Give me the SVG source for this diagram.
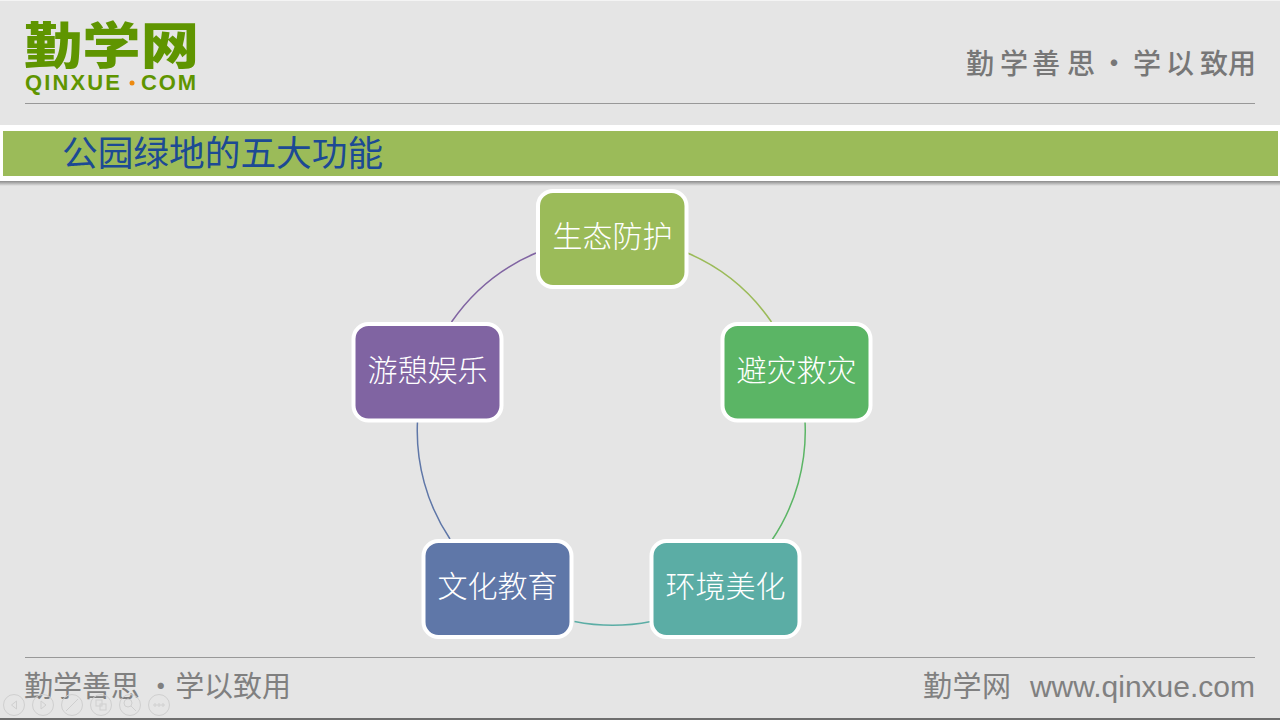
<svg xmlns="http://www.w3.org/2000/svg" width="1280" height="720" viewBox="0 0 1280 720">
<style>
text{font-family:"Noto Sans CJK SC","Liberation Sans",sans-serif}
.box{stroke:#fff;stroke-width:4}
.lbl{font-size:30px;font-weight:300;fill:#fff;text-anchor:middle}
.arc{fill:none;stroke-width:1.5}
.rule{stroke:#989898;stroke-width:1}
.foot{font-size:29px;fill:#808080;font-weight:400}
.tb{fill:none;stroke:#cfcfcf;stroke-width:1}
</style>
<defs>
<linearGradient id="sh" x1="0" y1="0" x2="0" y2="1"><stop offset="0" stop-color="#8a8a8a"/><stop offset="1" stop-color="#e5e5e5"/></linearGradient>
</defs>
<rect width="1280" height="720" fill="#e5e5e5"/>
<rect width="1280" height="1" fill="#f4f4f4"/>
<rect y="718" width="1280" height="2" fill="#6e6e6e"/>
<g id="header">
<text x="24" y="64" font-size="50" font-weight="900" fill="#5f9500" textLength="175" lengthAdjust="spacingAndGlyphs">勤学网</text>
<text x="25" y="90" style="font-family:'Liberation Sans',sans-serif" font-size="22" font-weight="700" fill="#5f9500" textLength="95" lengthAdjust="spacing">QINXUE</text>
<circle cx="132" cy="83" r="2.500" fill="#ed8a10"/>
<text x="141" y="90" style="font-family:'Liberation Sans',sans-serif" font-size="22" font-weight="700" fill="#5f9500" textLength="55" lengthAdjust="spacing">COM</text>
<text y="74" font-size="28" font-weight="500" fill="#777" x="966 1000 1032 1067 1100 1133 1166 1200 1228">勤学善思·学以致用</text>
<line class="rule" x1="25" y1="103.500" x2="1255" y2="103.500"/>
</g>
<g id="title">
<rect y="181" width="1280" height="5" fill="url(#sh)"/>
<rect y="125" width="1280" height="56" fill="#fff"/>
<rect x="3" y="131" width="1275" height="45" fill="#9bbb59"/>
<text x="62" y="166" font-size="35.700" font-weight="400" fill="#1c4a94">公园绿地的五大功能</text>
</g>
<g id="connectors">
<path class="arc" stroke="#9bbb59" d="M687.500 253A194.500 194.500 0 0 1 771.500 322"/>
<path class="arc" stroke="#5bb565" d="M805 421A194.500 194.500 0 0 1 772 540"/>
<path class="arc" stroke="#5bada5" d="M651 621.500A194.500 194.500 0 0 1 574.500 621.500"/>
<path class="arc" stroke="#5f77a8" d="M450 539A194.500 194.500 0 0 1 417.500 421"/>
<path class="arc" stroke="#8064a2" d="M451.500 322A194.500 194.500 0 0 1 536 253"/>
</g>
<g id="node-1"><rect class="box" x="538" y="191" width="148.500" height="96" rx="15" fill="#9bbb59"/><text class="lbl" x="612.500" y="247">生态防护</text></g>
<g id="node-2"><rect class="box" x="722.500" y="324" width="148" height="96.500" rx="15" fill="#5bb565"/><text class="lbl" x="796.500" y="381">避灾救灾</text></g>
<g id="node-3"><rect class="box" x="651.500" y="541" width="148" height="96" rx="15" fill="#5bada5"/><text class="lbl" x="725.500" y="597">环境美化</text></g>
<g id="node-4"><rect class="box" x="423.500" y="541" width="148" height="96" rx="15" fill="#5f77a8"/><text class="lbl" x="497.500" y="597">文化教育</text></g>
<g id="node-5"><rect class="box" x="353.500" y="324" width="148" height="96.500" rx="15" fill="#8064a2"/><text class="lbl" x="427.500" y="381">游憩娱乐</text></g>
<g id="footer">
<line class="rule" x1="25" y1="657.500" x2="1255" y2="657.500"/>
<text class="foot" x="24" y="696.500" textLength="267" lengthAdjust="spacing">勤学善思 ・学以致用</text>
<text class="foot" x="923" y="696.500" textLength="88" lengthAdjust="spacing">勤学网</text>
<text x="1255" y="697" text-anchor="end" style="font-family:'Liberation Sans',sans-serif" font-size="30" fill="#808080">www.qinxue.com</text>
</g>
<g id="toolbar">
<circle class="tb" cx="14" cy="705" r="10.500"/><path class="tb" d="M16.500 701L11.500 705L16.500 709Z"/>
<circle class="tb" cx="43" cy="705" r="10.500"/><path class="tb" d="M41 701L46 705L41 709Z"/>
<circle class="tb" cx="72" cy="705" r="10.500"/><path class="tb" d="M66 711L78 699"/>
<circle class="tb" cx="101" cy="705" r="10.500"/><rect class="tb" x="96" y="700" width="6" height="6"/><rect class="tb" x="100" y="704" width="6" height="6"/>
<circle class="tb" cx="130" cy="705" r="10.500"/><circle class="tb" cx="128" cy="703" r="4"/><path class="tb" d="M131 706L136 711"/>
<circle class="tb" cx="159" cy="705" r="10.500"/><circle class="tb" cx="155" cy="705" r="1.200"/><circle class="tb" cx="159" cy="705" r="1.200"/><circle class="tb" cx="163" cy="705" r="1.200"/>
</g>
</svg>
